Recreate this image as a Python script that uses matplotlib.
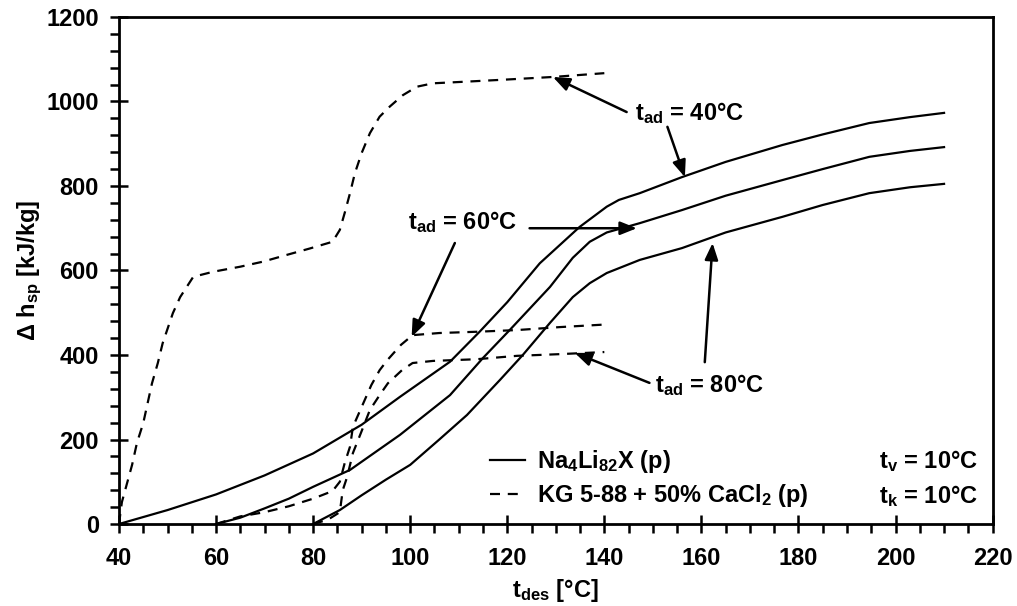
import matplotlib
matplotlib.use("Agg")
import matplotlib.pyplot as plt
from matplotlib.ticker import MultipleLocator

FS = 17

plt.rcParams.update({
    "font.family": ["Liberation Sans", "DejaVu Sans"],
    "font.weight": "bold",
    "font.size": FS,
    "mathtext.fontset": "custom",
    "mathtext.rm": "Liberation Sans:bold",
    "mathtext.bf": "Liberation Sans:bold",
    "mathtext.it": "Liberation Sans:bold",
    "mathtext.default": "rm",
})

# Na4Li82X (p): specific heat delta vs desorption temperature, for t_ad = 40/60/80 °C
na_t40 = [40, 50, 60, 70, 80, 90, 97.9, 108.2, 114.3, 120, 126.7, 134.9, 140.5, 143,
          147.3, 156, 165, 176.7, 185, 194.6, 203, 210]
na_h40 = [0, 33, 70, 115, 167, 235, 301, 384, 455, 525, 617, 703, 751, 767,
          783, 821, 857, 897, 922, 949, 963, 973]

na_t60 = [60, 65, 70, 75, 80, 87.6, 97.9, 108.2, 115, 120.5, 128.8, 133.5, 137, 140.5,
          147.3, 156, 165, 176.7, 185, 194.6, 203, 210]
na_h60 = [0, 15, 37, 60, 88, 128, 211, 305, 393, 459, 561, 630, 668, 690,
          712, 743, 777, 814, 840, 869, 883, 892]

na_t80 = [80, 85.5, 90, 95, 100, 106, 111.7, 118.5, 123.2, 128.8, 133.5, 137, 140.5,
          147.3, 156, 165, 176.7, 185, 194.6, 203, 210]
na_h80 = [0, 33, 68, 105, 140, 200, 258, 341, 400, 476, 537, 570, 594,
          625, 653, 690, 727, 755, 783, 797, 805]

# KG 5-88 + 50% CaCl2 (p)
kg_t40 = [40, 40.6, 42.7, 43.7, 45, 46.8, 48, 49, 51.1, 52.6, 55.3, 59.4, 65, 69.7,
          74.6, 79.3, 84, 85.5, 86.5, 87.6, 88.6, 90, 91.7, 93.7, 95.8, 98.5, 101.4,
          104.7, 111.7, 120, 129.4, 140]
kg_h40 = [0, 52, 140, 192, 239, 333, 381, 428, 499, 537, 585, 597, 609, 621,
          637, 652, 668, 696, 736, 783, 830, 878, 925, 964, 988, 1015, 1035,
          1043, 1047, 1052, 1058, 1067]

kg_t60 = [60, 65, 70, 75, 80, 84, 85.5, 86.5, 87.6, 88.2, 90, 92, 93.7, 95.3, 98.1,
          100.5, 106, 113.7, 122, 130.8, 140]
kg_h60 = [0, 18, 28, 42, 60, 78, 100, 144, 183, 230, 277, 329, 364, 388, 424,
          447, 452, 455, 459, 466, 472]

kg_t80 = [80, 83, 85.5, 86.1, 87, 88.2, 90, 91.7, 93.7, 95.4, 98.3, 100.5, 104.7,
          113.7, 122, 130.8, 140]
kg_h80 = [0, 10, 28, 80, 111, 168, 220, 270, 305, 333, 364, 381, 386,
          390, 398, 402, 407]

x_ticks = [40, 60, 80, 100, 120, 140, 160, 180, 200, 220]
y_ticks = [0, 200, 400, 600, 800, 1000, 1200]

fig = plt.figure(figsize=(10.17, 6.06), dpi=100)
ax = fig.add_axes([0.117, 0.1353, 0.859, 0.8367])

lw = 1.6
dash = (0, (4.5, 3.5))
ax.plot(na_t40, na_h40, color="k", lw=lw, label=r"Na$_{4}$Li$_{82}$X (p)")
ax.plot(na_t60, na_h60, color="k", lw=lw)
ax.plot(na_t80, na_h80, color="k", lw=lw)
ax.plot(kg_t40, kg_h40, color="k", lw=lw, ls=dash,
        label=r"KG 5-88 + 50% CaCl$_{2}$ (p)")
ax.plot(kg_t60, kg_h60, color="k", lw=lw, ls=dash)
ax.plot(kg_t80, kg_h80, color="k", lw=lw, ls=dash)

ax.set_xlim(40, 220)
ax.set_ylim(0, 1200)
ax.set_xticks(x_ticks)
ax.set_yticks(y_ticks)
ax.xaxis.set_minor_locator(MultipleLocator(5))
ax.yaxis.set_minor_locator(MultipleLocator(40))
ax.tick_params(which="major", direction="inout", length=13, width=1.8,
               labelsize=FS)
ax.tick_params(axis="x", which="major", pad=10)
ax.tick_params(axis="y", which="major", pad=8)
ax.tick_params(which="minor", direction="out", length=6.5, width=1.8)
for lab in ax.get_xticklabels() + ax.get_yticklabels():
    lab.set_fontweight("bold")
for sp in ax.spines.values():
    sp.set_linewidth(2.0)

ax.set_xlabel(r"t$_{des}$ [°C]", fontsize=FS, fontweight="bold", labelpad=5)
ax.set_ylabel(r"Δ h$_{sp}$ [kJ/kg]", fontsize=FS, fontweight="bold")
ax.yaxis.set_label_coords(-0.086, 0.5)

arrow = dict(arrowstyle="-|>,head_length=0.5,head_width=0.2", lw=1.8,
             color="k", mutation_scale=20, shrinkA=0, shrinkB=0)

# t_ad = 40 °C
ax.text(146.3, 973, r"t$_{ad}$ = 40°C", ha="left", va="center", fontsize=FS)
ax.annotate("", xy=(129.4, 1058), xytext=(144.6, 975), arrowprops=arrow)
ax.annotate("", xy=(156.6, 821), xytext=(153, 940), arrowprops=arrow)

# t_ad = 60 °C
ax.text(99.5, 715, r"t$_{ad}$ = 60°C", ha="left", va="center", fontsize=FS)
ax.annotate("", xy=(146.7, 700), xytext=(124.6, 700), arrowprops=arrow)
ax.annotate("", xy=(100.3, 443), xytext=(109.2, 665), arrowprops=arrow)

# t_ad = 80 °C
ax.text(150.4, 329, r"t$_{ad}$ = 80°C", ha="left", va="center", fontsize=FS)
ax.annotate("", xy=(133.9, 405), xytext=(149.3, 334), arrowprops=arrow)
ax.annotate("", xy=(162.3, 665), xytext=(160.7, 383), arrowprops=arrow)

ax.legend(loc="upper left", bbox_to_anchor=(0.4245, 0.15), frameon=False,
          fontsize=FS, handlelength=1.5, handletextpad=0.5, labelspacing=0.3,
          borderpad=0, borderaxespad=0)

ax.text(0.983, 0.124, r"t$_{v}$ = 10°C", transform=ax.transAxes,
        ha="right", va="center", fontsize=FS)
ax.text(0.983, 0.056, r"t$_{k}$ = 10°C", transform=ax.transAxes,
        ha="right", va="center", fontsize=FS)

fig.savefig("out.png", dpi=100)
